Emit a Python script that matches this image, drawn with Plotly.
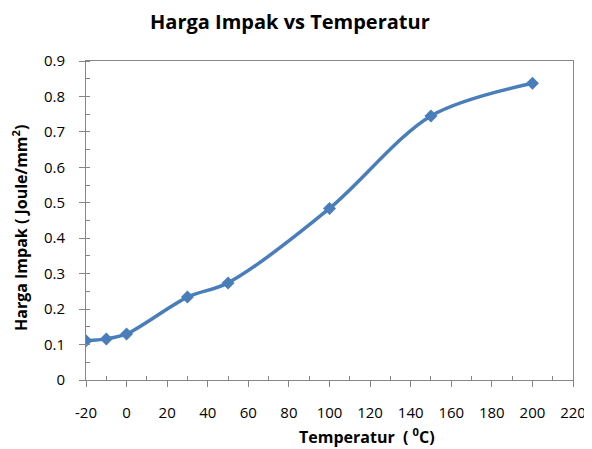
import plotly.graph_objects as go

temperatur = [-20, -10, 0, 30, 50, 100, 150, 200]
harga_impak = [0.111, 0.116, 0.130, 0.234, 0.274, 0.484, 0.745, 0.837]
x_ticks = list(range(-20, 221, 20))
x_ticklabels = [str(v) for v in x_ticks]
y_ticks = [0, 0.1, 0.2, 0.3, 0.4, 0.5, 0.6, 0.7, 0.8, 0.9]
y_ticklabels = ["0", "0.1", "0.2", "0.3", "0.4", "0.5", "0.6", "0.7", "0.8", "0.9"]

AX = "#868686"
TICKFONT = dict(family="Open Sans, sans-serif", size=15, color="#000")
TITLEFONT = dict(family="Open Sans, sans-serif", size=16, color="#000")

# page has an 8px body margin; figure is placed at (8, 8)
OFF = 8
W, H = 592 - OFF, 449 - OFF
L, R, T, B = 86 - OFF, 19, 61 - OFF, 69

fig = go.Figure()
fig.add_trace(go.Scatter(
    x=temperatur, y=harga_impak, mode="lines+markers",
    line=dict(color="#4a7ebb", width=3.5, shape="spline", smoothing=0.9),
    marker=dict(symbol="diamond", size=10, color="#4a7ebb"),
    showlegend=False,
))

fig.update_layout(
    width=W, height=H,
    margin=dict(l=L, r=R, t=T, b=B, autoexpand=False),
    paper_bgcolor="white", plot_bgcolor="white",
    xaxis=dict(
        range=[-20, 220], tickvals=x_ticks, ticktext=x_ticklabels,
        showline=True, linecolor=AX, linewidth=1, mirror=True,
        ticks="outside", ticklen=6, tickcolor=AX, ticklabelstandoff=13,
        minor=dict(tickvals=list(range(-10, 220, 20)), ticks="inside", ticklen=4, tickcolor=AX),
        showgrid=False, zeroline=False, automargin=False, tickfont=TICKFONT,
    ),
    yaxis=dict(
        range=[0, 0.9], tickvals=y_ticks, ticktext=y_ticklabels,
        showline=True, linecolor=AX, linewidth=1, mirror=True,
        ticks="outside", ticklen=6, tickcolor=AX, ticklabelstandoff=11,
        minor=dict(dtick=0.05, ticks="inside", ticklen=4, tickcolor=AX),
        showgrid=False, zeroline=False, automargin=False, tickfont=TICKFONT,
    ),
    xaxis2=dict(
        overlaying="x", matches="x", range=[-20, 220], tickvals=x_ticks,
        ticks="inside", ticklen=5, tickcolor=AX, showticklabels=False,
        showline=False, showgrid=False, zeroline=False, automargin=False,
    ),
    yaxis2=dict(
        overlaying="y", matches="y", range=[0, 0.9], tickvals=y_ticks,
        ticks="inside", ticklen=5, tickcolor=AX, showticklabels=False,
        showline=False, showgrid=False, zeroline=False, automargin=False,
    ),
    annotations=[
        dict(text="<b>Harga Impak vs Temperatur</b>", x=290, y=22,
             showarrow=False, font=dict(family="Open Sans, sans-serif", size=20, color="#000")),
        dict(text="<b>Temperatur  ( <sup>0</sup>C)</b>", x=367, y=436, showarrow=False,
             font=TITLEFONT),
        dict(text="<b>Harga Impak ( Joule/mm<sup>2</sup>)</b>", x=20, y=228, textangle=-90,
             showarrow=False, font=TITLEFONT),
    ],
)

# convert page-pixel positions of annotations into paper coordinates
pw, ph = W - L - R, H - T - B
new_ann = []
for a in fig.layout.annotations:
    px, py = a.x - OFF, a.y - OFF
    a.update(xref="paper", yref="paper",
             x=(px - L) / pw, y=(H - B - py) / ph,
             xanchor="center", yanchor="middle")
    new_ann.append(a)
fig.layout.annotations = new_ann

fig.write_html("out.html")
